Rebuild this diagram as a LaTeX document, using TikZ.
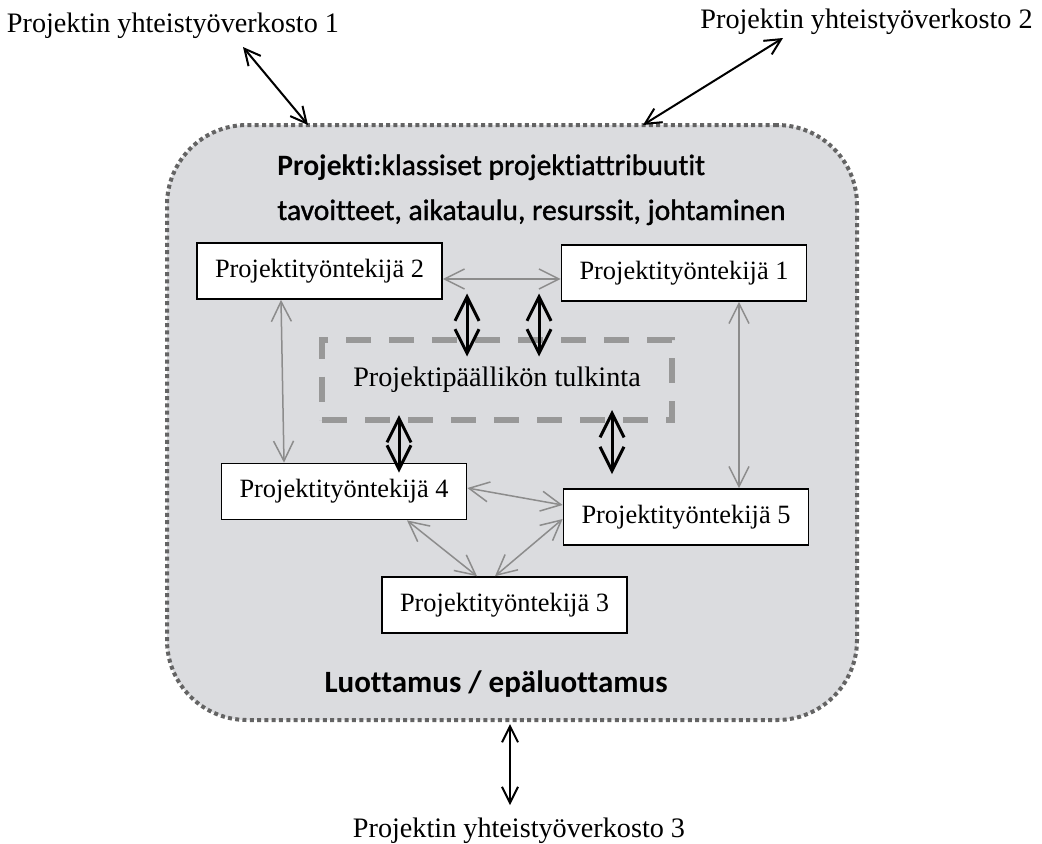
\documentclass[tikz,border=0pt]{standalone}
\usepackage{fontspec}
\setmainfont{Liberation Serif}
\newfontfamily\headfont[FakeBold=1.2, Ligatures=CommonOff]{Carlito}
\newfontfamily\trustfont[Ligatures=CommonOff]{Carlito}
\usetikzlibrary{arrows.meta,calc}
\definecolor{projgray}{RGB}{219,220,223}
\definecolor{dotgray}{RGB}{100,100,100}
\definecolor{linkgray}{RGB}{140,140,140}
\definecolor{dashgray}{RGB}{152,152,152}
\tikzset{
	worker/.style={draw, fill=white, line width=0.85pt, minimum width=122.5pt, minimum height=28pt, inner sep=0pt, font=\fontsize{13.2}{15}\selectfont},
	netlabel/.style={inner sep=0pt, anchor=base, font=\fontsize{14.1}{16}\selectfont},
	headtext/.style={inner sep=0pt, anchor=base west, font=\headfont\fontsize{14.8}{18}\selectfont},
	graylink/.style={draw=linkgray, line width=0.75pt, {Straight Barb[length=10pt,width=10pt]}-{Straight Barb[length=10pt,width=10pt]}},
	pmlink/.style={draw=black, line width=1.5pt, {Straight Barb[length=12pt,width=12pt]}-{Straight Barb[length=12pt,width=12pt]}},
	netlink/.style={draw=black, line width=1pt, {Straight Barb[length=8pt,width=8pt]}-{Straight Barb[length=8pt,width=8pt]}}
}
\begin{document}
\begin{tikzpicture}[x=0.5pt, y=-0.5pt]
			%%%%% START %%%%%
			\useasboundingbox (0, 0) rectangle (1042, 843);
			
			\node[draw=dotgray, fill=projgray, line width=2pt, dash pattern=on 2pt off 1.65pt, rounded corners=40pt, minimum width=345pt, minimum height=297.5pt] (proj) at (512, 422.5) {};
			
			\node[headtext] (head1) at (277, 175) {{\trustfont\bfseries Projekti:}klassiset projektiattribuutit};
			\node[headtext] (head2) at (277, 220) {tavoitteet, aikataulu, resurssit, johtaminen};
			\node[inner sep=0pt, anchor=base, font=\trustfont\bfseries\fontsize{15.5}{18}\selectfont] (trust) at (496, 692) {Luottamus / epäluottamus};
			
			\node[draw=dashgray, line width=3pt, dash pattern=on 12.5pt off 9pt, minimum width=175pt, minimum height=40pt, inner sep=0pt, font=\fontsize{14.1}{16}\selectfont] (pm) at (497, 379.5) {Projektipäällikön tulkinta};
			
			\node[worker] (w2) at (319.5, 271) {Projektityöntekijä 2};
			\node[worker] (w1) at (684, 273) {Projektityöntekijä 1};
			\node[worker] (w4) at (344, 491.5) {Projektityöntekijä 4};
			\node[worker] (w5) at (686, 517) {Projektityöntekijä 5};
			\node[worker] (w3) at (504.5, 605) {Projektityöntekijä 3};
			
			\node[netlabel] (net1) at (173, 32) {Projektin yhteistyöverkosto 1};
			\node[netlabel] (net2) at (866.5, 28) {Projektin yhteistyöverkosto 2};
			\node[netlabel] (net3) at (519, 837) {Projektin yhteistyöverkosto 3};
			
			% gray links between workers
			\draw[graylink] ([yshift=-4pt]w2.east) -- ([yshift=-3pt]w1.west);
			\draw[graylink] ([xshift=-19.25pt]w2.south) -- ([xshift=-30pt]w4.north);
			\draw[graylink] ([xshift=27.5pt]w1.south) -- ([xshift=26.5pt]w5.north);
			\draw[graylink] ([yshift=1.75pt]w4.east) -- ([yshift=6pt]w5.west);
			\draw[graylink] ([xshift=31.5pt]w4.south) -- ([xshift=-13.75pt]w3.north);
			\draw[graylink] ([xshift=-4.75pt]w3.north) -- ([yshift=-1pt]w5.west);
			
			% links to the project manager
			\draw[pmlink] ([xshift=-15pt, yshift=21.5pt]pm.north) -- ([xshift=-15pt, yshift=-10pt]pm.north);
			\draw[pmlink] ([xshift=21pt, yshift=21.5pt]pm.north) -- ([xshift=21pt, yshift=-10pt]pm.north);
			\draw[pmlink] ([xshift=-49pt, yshift=3.75pt]pm.south) -- ([xshift=27.5pt, yshift=-5pt]w4.north);
			\draw[pmlink] ([xshift=57.5pt, yshift=6.25pt]pm.south) -- ([xshift=-37pt, yshift=7pt]w5.north);
			
			% links to the networks
			\draw[netlink] ([xshift=-102pt, yshift=-1pt]proj.north) -- ([xshift=35pt, yshift=-7.5pt]net1.base);
			\draw[netlink] ([xshift=65.5pt, yshift=-1pt]proj.north) -- ([xshift=-41.75pt, yshift=-5pt]net2.base);
			\draw[netlink] ([xshift=-1pt, yshift=-1pt]proj.south) -- ([xshift=-4.5pt, yshift=16pt]net3.base);
			
			%%%%% END %%%%%
\end{tikzpicture}
\end{document}
